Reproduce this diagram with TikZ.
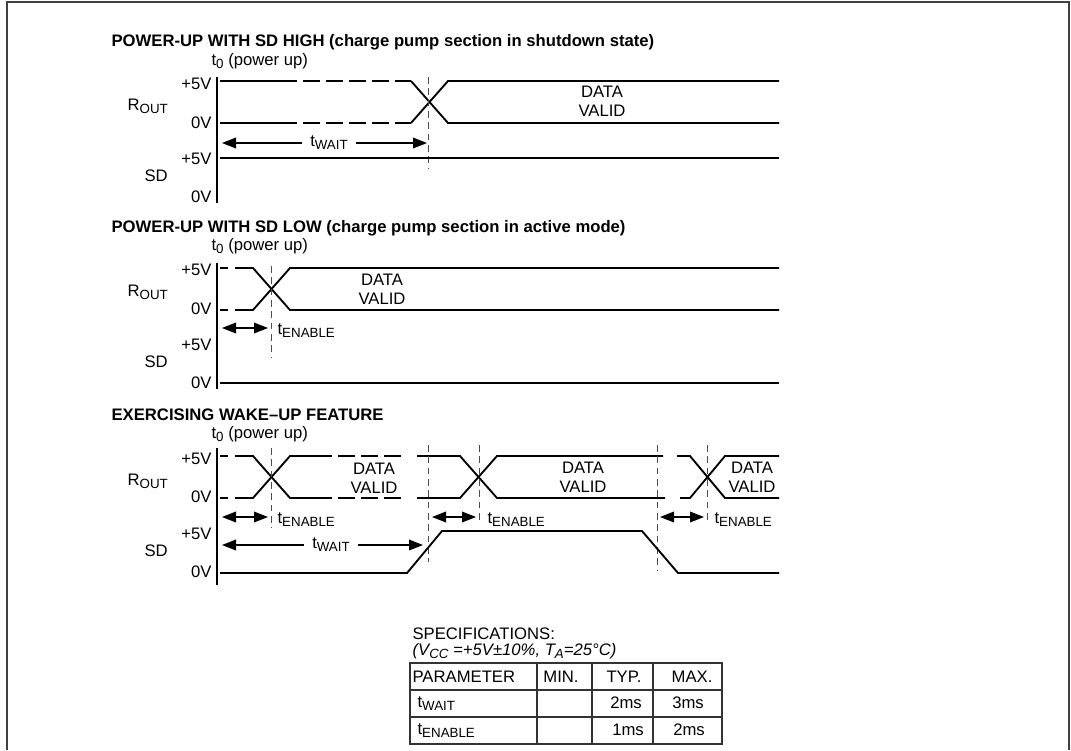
\documentclass[tikz,border=0pt]{standalone}
\usepackage{fontspec}
\setmainfont{Liberation Sans}
\usepackage{tikz}
\usetikzlibrary{arrows.meta}
\tikzstyle{sig} = [line width=1.4pt]
\tikzstyle{gap} = [line width=1.4pt, dash pattern=on 12.75pt off 4.5pt]
\tikzstyle{axis} = [line width=1.5pt]
\tikzstyle{tmark} = [line width=0.7pt, black!70, dash pattern=on 5pt off 3.5pt]
\tikzstyle{dim} = [line width=1pt, {Triangle[length=10.5pt,width=8pt]}-{Triangle[length=10.5pt,width=8pt]}]
\tikzstyle{lbl} = [inner sep=1pt, font=\fontsize{12.5}{14}\selectfont]
\tikzstyle{head} = [inner sep=1pt, anchor=west, font=\fontsize{12.5}{14}\selectfont\bfseries]
\tikzstyle{frame} = [line width=1.5pt, black!75]
\tikzstyle{grid} = [line width=0.9pt, black!80]
\newcommand{\lo}[1]{\raisebox{-0.35ex}{\fontsize{10}{11}\selectfont #1}}

\begin{document}
\begin{tikzpicture}[x=0.75pt,y=-0.75pt]
	\useasboundingbox (0,0) rectangle (1071,750);
	\draw [frame] (7,750) -- (7,2) -- (1069,2) -- (1069,750);
	
	% power-up with SD high
	\node [head] (h1) at (110,42) {POWER-UP WITH SD HIGH (charge pump section in shutdown state)};
	\node [lbl,anchor=west] (t1) at (210,61) {t\lo{0} (power up)};
	\node [lbl,anchor=east] (v1a) at (213,84) {+5V};
	\node [lbl,anchor=west] (r1) at (126,106) {R\lo{OUT}};
	\node [lbl,anchor=east] (v1b) at (213,123) {0V};
	\node [lbl,anchor=east] (v1c) at (213,159) {+5V};
	\node [lbl,anchor=west] (s1) at (143,176) {SD};
	\node [lbl,anchor=east] (v1d) at (213,197) {0V};
	\draw [axis] (217,77) -- (217,203);
	\draw [sig] (220,81) -- (297,81);
	\draw [gap] (303,81) -- (411,81);
	\draw [sig] (411,81) -- (448,123) -- (779,123);
	\draw [sig] (220,123) -- (297,123);
	\draw [gap] (303,123) -- (411,123);
	\draw [sig] (411,123) -- (448,81) -- (779,81);
	\node [lbl,align=center] (d1) at (602,101) {DATA\\VALID};
	\draw [tmark] (428,77) -- (428,168);
	\draw [dim] (222,143) -- (427,143);
	\node [lbl,fill=white,inner xsep=6pt] (w1) at (329,143) {t\lo{WAIT}};
	\draw [sig] (220,158) -- (779,158);
	
	% power-up with SD low
	\node [head] (h2) at (110,228) {POWER-UP WITH SD LOW (charge pump section in active mode)};
	\node [lbl,anchor=west] (t2) at (210,246) {t\lo{0} (power up)};
	\node [lbl,anchor=east] (v2a) at (213,270) {+5V};
	\node [lbl,anchor=west] (r2) at (126,292) {R\lo{OUT}};
	\node [lbl,anchor=east] (v2b) at (213,309) {0V};
	\node [lbl,anchor=east] (v2c) at (213,345) {+5V};
	\node [lbl,anchor=west] (s2) at (143,362) {SD};
	\node [lbl,anchor=east] (v2d) at (213,383) {0V};
	\draw [axis] (217,263) -- (217,389);
	\draw [sig] (220,268) -- (228,268);
	\draw [sig] (235,268) -- (253,268) -- (290,310) -- (779,310);
	\draw [sig] (220,310) -- (228,310);
	\draw [sig] (235,310) -- (253,310) -- (290,268) -- (779,268);
	\node [lbl,align=center] (d2) at (382,289) {DATA\\VALID};
	\draw [tmark] (271,266) -- (271,357);
	\draw [dim] (222,328) -- (268,328);
	\node [lbl,anchor=west] (e2) at (276,331) {t\lo{ENABLE}};
	\draw [sig] (220,383) -- (779,383);
	
	% wake-up
	\node [head] (h3) at (110,415) {EXERCISING WAKE–UP FEATURE};
	\node [lbl,anchor=west] (t3) at (210,434) {t\lo{0} (power up)};
	\node [lbl,anchor=east] (v3a) at (213,459) {+5V};
	\node [lbl,anchor=west] (r3) at (126,481) {R\lo{OUT}};
	\node [lbl,anchor=east] (v3b) at (213,497) {0V};
	\node [lbl,anchor=east] (v3c) at (213,534) {+5V};
	\node [lbl,anchor=west] (s3) at (143,551) {SD};
	\node [lbl,anchor=east] (v3d) at (213,572) {0V};
	\draw [axis] (217,448) -- (217,585);
	\draw [sig] (220,456) -- (228,456);
	\draw [sig] (235,456) -- (253,456) -- (290,498) -- (315,498);
	\draw [sig] (220,498) -- (228,498);
	\draw [sig] (235,498) -- (253,498) -- (290,456) -- (315,456);
	\draw [gap] (315,456) -- (405,456);
	\draw [gap] (315,498) -- (405,498);
	\draw [sig] (417,456) -- (460,456) -- (497,498) -- (665,498);
	\draw [sig] (417,498) -- (460,498) -- (497,456) -- (663,456);
	\draw [sig] (677,456) -- (690,456) -- (725,498) -- (779,498);
	\draw [sig] (680,498) -- (690,498) -- (725,456) -- (779,456);
	\node [lbl,align=center] (d3a) at (374,478) {DATA\\VALID};
	\node [lbl,align=center] (d3b) at (583,477) {DATA\\VALID};
	\node [lbl,align=center] (d3c) at (752,477) {DATA\\VALID};
	\draw [tmark] (271,448) -- (271,528);
	\draw [tmark] (428,445) -- (428,562);
	\draw [tmark] (479,445) -- (479,522);
	\draw [tmark] (657,445) -- (657,570);
	\draw [tmark] (707,445) -- (707,522);
	\draw [dim] (222,517) -- (268,517);
	\node [lbl,anchor=west] (e3a) at (276,520) {t\lo{ENABLE}};
	\draw [dim] (432,517) -- (476,517);
	\node [lbl,anchor=west] (e3b) at (486,520) {t\lo{ENABLE}};
	\draw [dim] (660,517) -- (704,517);
	\node [lbl,anchor=west] (e3c) at (713,520) {t\lo{ENABLE}};
	\draw [dim] (222,545) -- (423,545);
	\node [lbl,fill=white,inner xsep=6pt] (w3) at (331,545) {t\lo{WAIT}};
	\draw [sig] (220,573) -- (407,573) -- (442,531) -- (642,531) -- (678,573) -- (779,573);
	
	% specifications
	\node [lbl,anchor=west] (sp) at (411,634) {SPECIFICATIONS:};
	\node [lbl,anchor=west,font=\fontsize{12.5}{14}\selectfont\itshape] (cond) at (411,651) {(V\lo{CC} =+5V±10\%, T\lo{A}=25°C)};
	\draw [grid] (410,663) rectangle (722,744);
	\draw [grid] (410,690) -- (722,690);
	\draw [grid] (410,717) -- (722,717);
	\draw [grid] (537,663) -- (537,744);
	\draw [grid] (592,663) -- (592,744);
	\draw [grid] (653,663) -- (653,744);
	\node [lbl,anchor=west] (c1) at (411,677) {PARAMETER};
	\node [lbl] (c2) at (561,677) {MIN.};
	\node [lbl] (c3) at (624,677) {TYP.};
	\node [lbl] (c4) at (692,677) {MAX.};
	\node [lbl,anchor=west] (p1) at (416,704) {t\lo{WAIT}};
	\node [lbl] (p1t) at (626,703) {2ms};
	\node [lbl] (p1m) at (688,703) {3ms};
	\node [lbl,anchor=west] (p2) at (416,731) {t\lo{ENABLE}};
	\node [lbl] (p2t) at (628,730) {1ms};
	\node [lbl] (p2m) at (689,730) {2ms};
\end{tikzpicture}
\end{document}
